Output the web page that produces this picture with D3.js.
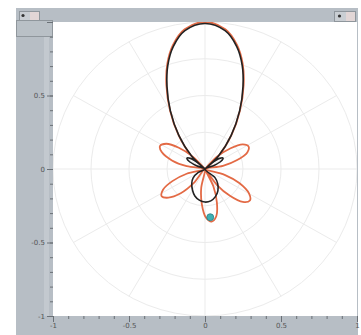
<!DOCTYPE html>
<html><head><meta charset="utf-8">
<script src="https://cdn.jsdelivr.net/npm/d3@7"></script>
<style>body{margin:0;background:#fff}svg{display:block}</style>
</head><body>
<script>
// ---- data (compass degrees clockwise from up, radius 0..1) ----
const orangeAngle = [-50,-45,-37,-30,-24,-19,-14,-8,0,8,14,19,24,30,37,45,50,
  44,50,56,62,68,74,80,86,
  107,113,120,126,132,138,144,150,
  155,161,167,173,179,185,191,197,
  218,224,231,237,243,249,255,261,
  279,285,292,298,304,310,316,322];
const orangeR = [0,0.13,0.29,0.46,0.625,0.76,0.87,0.96,1.0,0.96,0.87,0.76,0.625,0.46,0.29,0.13,0,
  0.12,0.22,0.3,0.325,0.3,0.22,0.12,0,
  0.135,0.245,0.335,0.365,0.335,0.245,0.135,0,
  0.13,0.24,0.33,0.36,0.33,0.24,0.13,0,
  0.125,0.23,0.31,0.34,0.31,0.23,0.125,0,
  0.122,0.225,0.307,0.335,0.307,0.225,0.122,0];
const blackAngle = [-50,-45,-37,-30,-24,-19,-14,-8,0,8,14,19,24,30,37,45,50,
  48,53,58,63,68,75,
  132,140,150,160,170,180,190,200,210,222,232,242,250,
  292,297,302,307,312];
const blackR = [0,0.125,0.285,0.455,0.615,0.75,0.86,0.95,0.99,0.95,0.86,0.75,0.615,0.455,0.285,0.125,0,
  0.06,0.12,0.14,0.12,0.06,0,
  0.09,0.13,0.17,0.2,0.22,0.225,0.215,0.195,0.165,0.13,0.1,0.05,0,
  0.06,0.12,0.14,0.12,0.06];
const markerAngle = [174];
const markerR = [0.33];
const gridRadii = [0.25,0.5,0.75,1];
const spokeAngles = [0,30,60,90,120,150,180,210,240,270,300,330];
const majorTicks = [-1,-0.5,0,0.5,1];
const minorTicks = d3.range(-10,11).map(d=>d/10);

const W=361,H=335;
const svg=d3.select("body").append("svg").attr("width",W).attr("height",H);
const xs=d3.scaleLinear().domain([-1,1]).range([53,357]);
const ys=d3.scaleLinear().domain([-1,1]).range([316,22]);
const toXY=(a,r)=>{const t=a*Math.PI/180;return [xs(r*Math.sin(t)),ys(r*Math.cos(t))];};

// window frame
svg.append("rect").attr("x",16).attr("y",8).attr("width",342).attr("height",327).attr("fill","#b7bec5");
svg.append("rect").attr("x",53).attr("y",22).attr("width",304).attr("height",294).attr("fill","#fff");
svg.append("rect").attr("x",44).attr("y",36).attr("width",5).attr("height",280).attr("fill","#c3c9cf");
// corner box
svg.append("rect").attr("x",16.5).attr("y",20.5).attr("width",36).attr("height",16).attr("fill","#b9c0c6").attr("stroke","#8f969c");
// buttons
svg.append("rect").attr("x",19.5).attr("y",11.5).attr("width",20).attr("height",9).attr("fill","#c9ced3").attr("stroke","#8f969c");
svg.append("rect").attr("x",30).attr("y",12).attr("width",9).attr("height",8).attr("fill","#e2d6d6");
svg.append("circle").attr("cx",23).attr("cy",15.5).attr("r",1.6).attr("fill","#333");
svg.append("rect").attr("x",334.5).attr("y",11.5).attr("width",21).attr("height",10).attr("fill","#c9ced3").attr("stroke","#8f969c");
svg.append("rect").attr("x",346).attr("y",12).attr("width",9).attr("height",9).attr("fill","#e2d6d6");
svg.append("circle").attr("cx",339.5).attr("cy",16).attr("r",1.6).attr("fill","#333");

svg.append("clipPath").attr("id","pc").append("rect").attr("x",53).attr("y",22).attr("width",304).attr("height",294);
const g=svg.append("g").attr("clip-path","url(#pc)");

const cx=xs(0),cy=ys(0);
g.selectAll(".ring").data(gridRadii).join("ellipse")
  .attr("cx",cx).attr("cy",cy)
  .attr("rx",d=>xs(d)-cx).attr("ry",d=>cy-ys(d))
  .attr("fill","none").attr("stroke","#ebebeb").attr("stroke-width",1);
g.selectAll(".spoke").data(spokeAngles).join("line")
  .attr("x1",cx).attr("y1",cy)
  .attr("x2",d=>toXY(d,1)[0]).attr("y2",d=>toXY(d,1)[1])
  .attr("stroke","#ebebeb").attr("stroke-width",1);

const line=d3.line().curve(d3.curveCatmullRomClosed.alpha(0.5));
const oPts=orangeAngle.map((a,i)=>toXY(a,orangeR[i]));
const bPts=blackAngle.map((a,i)=>toXY(a,blackR[i]));
g.append("path").attr("d",line(oPts)).attr("fill","none").attr("stroke","#e36a45").attr("stroke-width",1.8);
g.append("path").attr("d",line(bPts)).attr("fill","none").attr("stroke","#222").attr("stroke-width",1.6);
g.selectAll(".mk").data(markerAngle).join("circle")
  .attr("cx",(d,i)=>toXY(d,markerR[i])[0]).attr("cy",(d,i)=>toXY(d,markerR[i])[1])
  .attr("r",3.5).attr("fill","#3fb0b3").attr("stroke","#2a7f85").attr("stroke-width",0.8);

const fmt=d=>d===0?"0":String(d);
const la=svg.append("g").attr("transform","translate(53,0)");
la.call(d3.axisLeft(ys).tickValues(minorTicks).tickSize(3).tickFormat(""));
const lb=svg.append("g").attr("transform","translate(53,0)");
lb.call(d3.axisLeft(ys).tickValues(majorTicks).tickSize(6).tickPadding(2).tickFormat(fmt));
const ba=svg.append("g").attr("transform","translate(0,316)");
ba.call(d3.axisBottom(xs).tickValues(minorTicks).tickSize(3).tickFormat(""));
const bb=svg.append("g").attr("transform","translate(0,316)");
bb.call(d3.axisBottom(xs).tickValues(majorTicks).tickSize(6).tickPadding(1).tickFormat(fmt));
svg.selectAll(".domain").remove();
svg.selectAll(".tick line").attr("stroke","#6a7076");
svg.selectAll(".tick text").attr("fill","#555").style("font-family","DejaVu Sans").style("font-size","7px");
lb.selectAll(".tick").filter(d=>d===1).select("text").remove();
</script>
</body></html>
